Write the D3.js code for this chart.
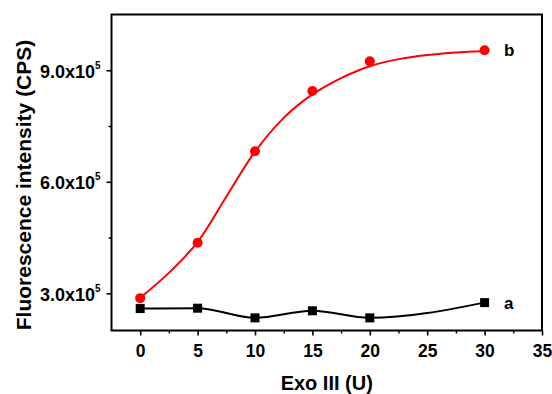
<!DOCTYPE html>
<html>
<head>
<meta charset="utf-8">
<script src="https://cdn.jsdelivr.net/npm/d3@7"></script>
<style>
  html, body { margin: 0; padding: 0; background: #fff; }
  svg { display: block; }
  text { font-family: "Liberation Sans", Arial, sans-serif; font-weight: bold; fill: #000; }
</style>
</head>
<body>
<svg id="chart" width="552" height="394"></svg>
<script>
// ---- data ----
const exo = [0, 5, 10, 15, 20, 30];
const seriesA = [2.59e5, 2.60e5, 2.34e5, 2.53e5, 2.34e5, 2.75e5];
const seriesB = [2.87e5, 4.36e5, 6.82e5, 8.44e5, 9.24e5, 9.54e5];
// fitted (sigmoid) curve for series b
const fitX = [0, 2.5, 5, 7.5, 10, 12.5, 15, 17.5, 20, 22.5, 25, 27.5, 30];
const fitB = [2.88e5, 3.55e5, 4.38e5, 5.60e5, 6.81e5, 7.72e5, 8.35e5, 8.79e5, 9.11e5, 9.30e5, 9.41e5, 9.48e5, 9.52e5];
const xTicks = [0, 5, 10, 15, 20, 25, 30, 35];
const xMinorTicks = [2.5, 7.5, 12.5, 17.5, 22.5, 27.5, 32.5];
const yTicks = [3e5, 6e5, 9e5];
const yTickLabels = ["3.0x10", "6.0x10", "9.0x10"];
const yMinorTicks = [4.5e5, 7.5e5];
const seriesLabels = ["a", "b"];

// ---- layout ----
const L = 111.5, R = 542, T = 14.5, B = 330.5;
const svg = d3.select("#chart");
const x = d3.scaleLinear().domain([-2.5, 35]).range([L, R]);
const y = d3.scaleLinear().domain([2e5, 10.5e5]).range([B, T]);

// frame
svg.append("rect").attr("x", L).attr("y", T).attr("width", R - L).attr("height", B - T)
  .attr("fill", "none").attr("stroke", "#000").attr("stroke-width", 2);

// x axis
const xAxis = d3.axisBottom(x).tickValues(xTicks).tickSize(5).tickPadding(9).tickFormat(d3.format("d"));
const gx = svg.append("g").attr("transform", `translate(0,${B})`).call(xAxis);
gx.select(".domain").remove();
gx.selectAll(".tick line").attr("stroke-width", 1.6);
gx.selectAll(".tick text").style("font-size", "17.5px").style("font-family", "Liberation Sans, Arial, sans-serif").style("font-weight", "bold");
const xMinor = d3.axisBottom(x).tickValues(xMinorTicks).tickSize(3).tickFormat("");
const gxm = svg.append("g").attr("transform", `translate(0,${B})`).call(xMinor);
gxm.select(".domain").remove();
gxm.selectAll(".tick line").attr("stroke-width", 1.4);

// y axis
const yAxis = d3.axisLeft(y).tickValues(yTicks).tickSize(5).tickFormat("");
const gy = svg.append("g").attr("transform", `translate(${L},0)`).call(yAxis);
gy.select(".domain").remove();
gy.selectAll(".tick line").attr("stroke-width", 1.6);
const yMinor = d3.axisLeft(y).tickValues(yMinorTicks).tickSize(3).tickFormat("");
const gym = svg.append("g").attr("transform", `translate(${L},0)`).call(yMinor);
gym.select(".domain").remove();
gym.selectAll(".tick line").attr("stroke-width", 1.4);

// y tick labels with superscript
yTicks.forEach((v, i) => {
  const t = svg.append("text")
    .attr("x", L - 11).attr("y", y(v) + 7.5)
    .attr("text-anchor", "end")
    .style("font-size", "18px");
  t.append("tspan").text(yTickLabels[i]);
  t.append("tspan").attr("dy", -9).style("font-size", "10px").text("5");
});

// axis titles
svg.append("text").attr("x", (L + R) / 2).attr("y", 390)
  .attr("text-anchor", "middle").style("font-size", "20px").text("Exo III (U)");
svg.append("text")
  .attr("transform", `translate(31,185) rotate(-90)`)
  .attr("text-anchor", "middle").style("font-size", "21px")
  .text("Fluorescence intensity (CPS)");

// series a line (smooth spline through points)
const lineA = d3.line().x((d, i) => x(exo[i])).y(d => y(d)).curve(d3.curveMonotoneX);
svg.append("path").datum(seriesA).attr("d", lineA)
  .attr("fill", "none").attr("stroke", "#000").attr("stroke-width", 2);

// series b fit line
const lineB = d3.line().x((d, i) => x(fitX[i])).y(d => y(d)).curve(d3.curveCatmullRom.alpha(0.5));
svg.append("path").datum(fitB).attr("d", lineB)
  .attr("fill", "none").attr("stroke", "#ff0000").attr("stroke-width", 2);

// markers
const sq = 9;
svg.selectAll(".sq").data(seriesA).enter().append("rect")
  .attr("x", (d, i) => x(exo[i]) - sq / 2).attr("y", d => y(d) - sq / 2)
  .attr("width", sq).attr("height", sq).attr("fill", "#000");
svg.selectAll(".dot").data(seriesB).enter().append("circle")
  .attr("cx", (d, i) => x(exo[i])).attr("cy", d => y(d)).attr("r", 5)
  .attr("fill", "#ff0000");

// series labels
svg.append("text").attr("x", 504).attr("y", y(seriesA[5]) + 6).style("font-size", "17px").text(seriesLabels[0]);
svg.append("text").attr("x", 504).attr("y", y(seriesB[5]) + 6).style("font-size", "17px").text(seriesLabels[1]);
</script>
</body>
</html>
